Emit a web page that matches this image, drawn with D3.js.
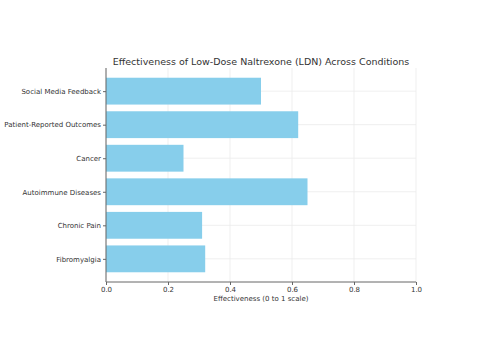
<!DOCTYPE html>
<html><head><meta charset="utf-8">
<script src="https://cdn.jsdelivr.net/npm/d3@7"></script>
<style>body{margin:0;background:#fff}svg{display:block}text{font-family:"DejaVu Sans",sans-serif;fill:#333}</style>
</head><body>
<svg id="c" width="500" height="350"></svg>
<script>
const categories = ["Fibromyalgia","Chronic Pain","Autoimmune Diseases","Cancer","Patient-Reported Outcomes","Social Media Feedback"];
const values = [0.32, 0.31, 0.65, 0.25, 0.62, 0.50];
const xTicks = [0, 0.2, 0.4, 0.6, 0.8, 1.0];
const title = "Effectiveness of Low-Dose Naltrexone (LDN) Across Conditions";
const xLabel = "Effectiveness (0 to 1 scale)";

const svg = d3.select("#c");
const L = 106, R = 416, T = 68, B = 282;
const x = d3.scaleLinear().domain([0, 1]).range([L, R]);
const n = categories.length;
const y = d3.scaleLinear().domain([-0.69, n - 1 + 0.69]).range([B, T]);
const barH = Math.abs(y(0.4) - y(-0.4));

// grid
svg.append("g").selectAll("line").data(xTicks).join("line")
  .attr("x1", d => x(d)).attr("x2", d => x(d)).attr("y1", T).attr("y2", B)
  .attr("stroke", "#ebebeb").attr("stroke-width", 0.8);
svg.append("g").selectAll("line").data(categories).join("line")
  .attr("x1", L).attr("x2", R).attr("y1", (d, i) => y(i)).attr("y2", (d, i) => y(i))
  .attr("stroke", "#ebebeb").attr("stroke-width", 0.8);

// bars
svg.append("g").selectAll("rect").data(values).join("rect")
  .attr("x", x(0)).attr("y", (d, i) => y(i) - barH / 2)
  .attr("width", d => x(d) - x(0)).attr("height", barH)
  .attr("fill", "#87CEEB");

// axes
const xAxis = svg.append("g").attr("transform", `translate(0,${B})`)
  .call(d3.axisBottom(x).tickValues(xTicks).tickFormat(d3.format(".1f")).tickSize(3).tickPadding(2));
const yAxis = svg.append("g").attr("transform", `translate(${L},0)`)
  .call(d3.axisLeft(y).tickValues(d3.range(n)).tickFormat(i => categories[i]).tickSize(3).tickPadding(2));
[xAxis, yAxis].forEach(g => {
  g.select(".domain").attr("stroke", "#666").attr("stroke-width", 1);
  g.selectAll(".tick line").attr("stroke", "#666");
  g.selectAll(".tick text").attr("font-size", 7).attr("fill", "#333").attr("font-family", "DejaVu Sans");
});
yAxis.select(".domain").attr("d", `M0,${T}V${B}`);
xAxis.select(".domain").attr("d", `M${L},0H${R}`);

svg.append("text").attr("x", (L + R) / 2).attr("y", 65).attr("text-anchor", "middle")
  .attr("font-size", 9.5).text(title);
svg.append("text").attr("x", (L + R) / 2).attr("y", 301).attr("text-anchor", "middle")
  .attr("font-size", 7).text(xLabel);
</script>
</body></html>
